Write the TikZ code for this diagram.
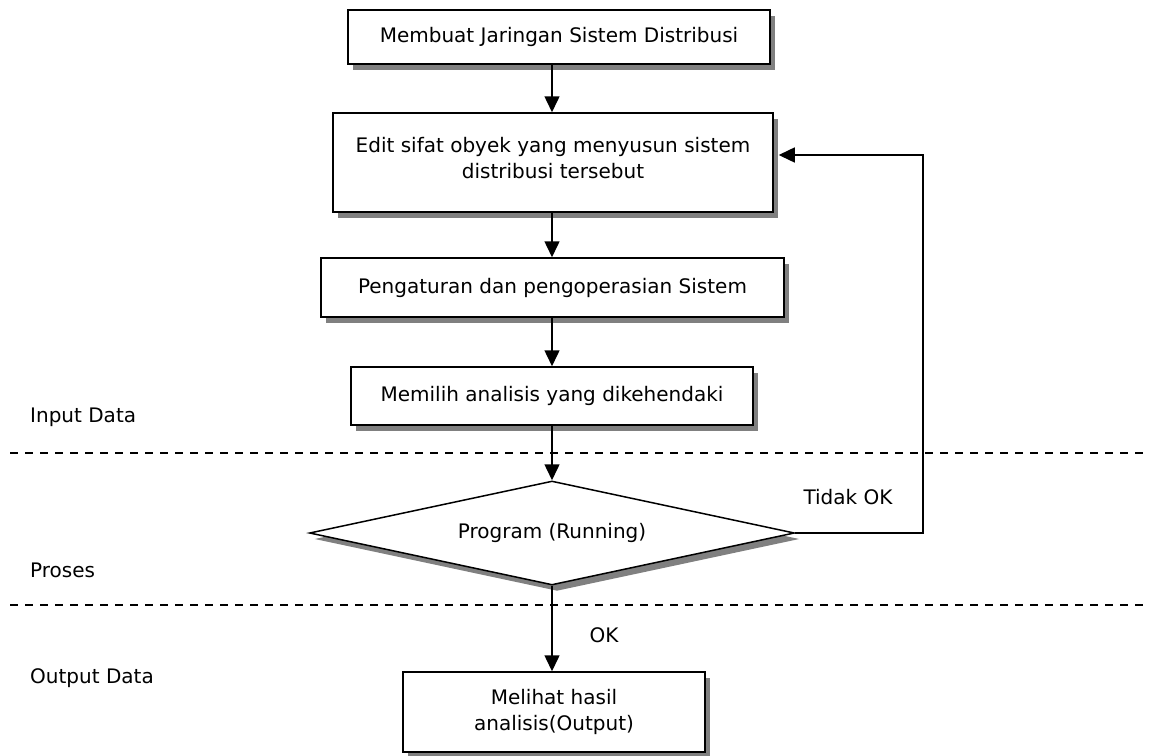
\documentclass[tikz,border=0pt]{standalone}
\usepackage{fontspec}
\setmainfont{DejaVu Sans}
\usetikzlibrary{shapes.geometric,arrows.meta,shadows}
\begin{document}
\begin{tikzpicture}[x=1pt,y=-1pt,
  every node/.style={font=\fontsize{20}{26}\selectfont},
  box/.style={draw, line width=1.5pt, fill=white, rectangle, inner sep=0pt,
    drop shadow={shadow xshift=5pt, shadow yshift=-6pt, fill=gray, opacity=1}},
  dec/.style={draw, line width=1.5pt, fill=white, diamond, inner sep=0pt, aspect=4.66,
    drop shadow={shadow xshift=5pt, shadow yshift=-6pt, fill=gray, opacity=1}},
  conn/.style={line width=1.5pt, -{Triangle[length=16pt,width=15pt]}},
  sep/.style={line width=1.3pt, dash pattern=on 8pt off 7pt},
  lbl/.style={anchor=west, inner sep=0pt}]
\useasboundingbox (0,0) rectangle (1150,755);
\node[box, minimum width=422, minimum height=54] (b1) at (559,37) {Membuat Jaringan Sistem Distribusi};
\node[box, minimum width=440, minimum height=99] (b2) at (553,162.5) {};
\node[align=center] (t2) at (553,158) {Edit sifat obyek yang menyusun sistem\\distribusi tersebut};
\node[box, minimum width=463, minimum height=59] (b3) at (552.5,287.5) {Pengaturan dan pengoperasian Sistem};
\node[box, minimum width=402, minimum height=58] (b4) at (552,396) {Memilih analisis yang dikehendaki};
\node[dec, minimum width=485, minimum height=104] (d) at (552,533) {Program (Running)};
\node[box, minimum width=302, minimum height=80, align=center] (b5) at (554,712) {Melihat hasil\\analisis(Output)};
\coordinate (c) at (552,0);
\draw[sep] (10,453) coordinate (s1a) -- (1150,453) coordinate (s1b);
\draw[sep] (10,605) coordinate (s2a) -- (1150,605) coordinate (s2b);
\draw[conn] (b1.south -| c) -- (b2.north -| c);
\draw[conn] (b2.south -| c) -- (b3.north -| c);
\draw[conn] (b3.south -| c) -- (b4.north -| c);
\draw[conn] (b4.south -| c) -- (d.north);
\draw[conn] (d.south) -- (b5.north -| c);
\coordinate (fb) at (923,155);
\draw[conn] (d.east) -| (fb) -- ([xshift=5pt]b2.east |- fb);
\node (tok) at (848,497) {Tidak OK};
\node (ok) at (604,635) {OK};
\node[lbl] (in) at (30,417) {Input Data};
\node[lbl] (pr) at (30,570) {Proses};
\node[lbl] (out) at (30,678) {Output Data};
\end{tikzpicture}
\end{document}
